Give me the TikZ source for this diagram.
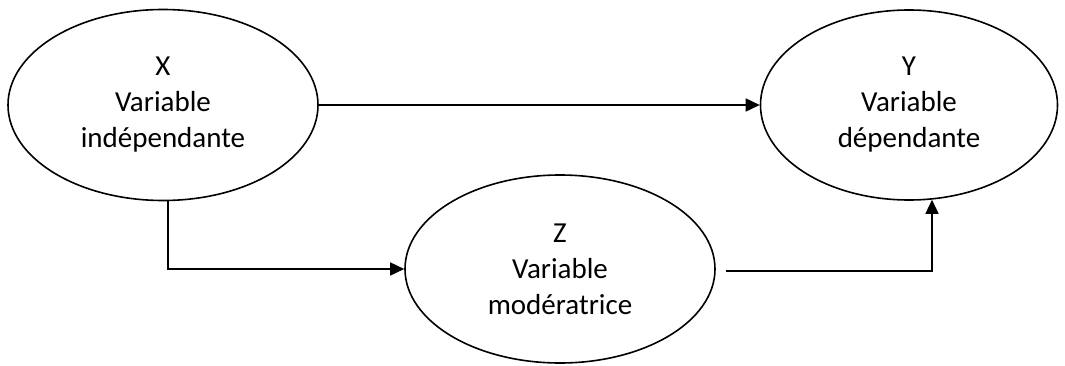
\documentclass[tikz,border=0pt]{standalone}
\usepackage{fontspec}
\setmainfont{Carlito}
\usetikzlibrary{shapes.geometric,arrows.meta,calc}
\begin{document}
\begin{tikzpicture}[x=1pt,y=1pt,
  var/.style={ellipse,draw,line width=1.6pt,inner sep=0pt,align=center,
    font=\fontsize{29}{36}\selectfont},
  link/.style={line width=1.6pt,-{Triangle[length=14pt,width=13pt]}}]
\useasboundingbox (0,0) rectangle (1065,365);
% variables
\node[var,minimum width=310,minimum height=191] (X) at (163,260) {X\\Variable\\indépendante};
\node[var,minimum width=297,minimum height=190] (Y) at (909,260) {Y\\Variable\\dépendante};
\node[var,minimum width=310,minimum height=188] (Z) at (560,96) {Z\\Variable\\modératrice};
% connector end points
\coordinate (zout) at ($(Z.east)+(10,-2)$);
\coordinate (yin) at ($(Y.south)+(23,1)$);
\coordinate (xout) at ($(X.south)+(5,0)$);
% links
\draw[link] (X.east) -- (Y.west);
\draw[link] (xout) |- (Z.west);
\draw[link] (zout) -| (yin);
\end{tikzpicture}
\end{document}
